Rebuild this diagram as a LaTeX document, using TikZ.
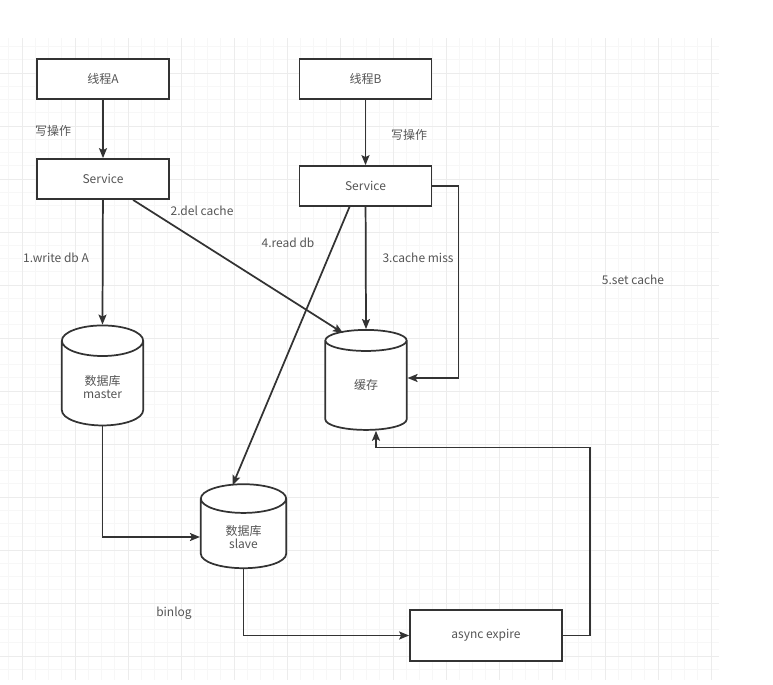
\documentclass[tikz,border=0pt]{standalone}
\usepackage{fontspec}
\setmainfont{Noto Sans CJK SC}
\usepackage{tikz}
\usetikzlibrary{
  arrows.meta,
  positioning,
  shapes.geometric,
  calc
}
\definecolor{lineclr}{RGB}{51,51,51}
\definecolor{txtclr}{RGB}{85,85,85}
\definecolor{gridminor}{RGB}{247,247,247}
\definecolor{gridmajor}{RGB}{236,236,236}
\newcommand{\lblfont}{\fontsize{9}{10}\selectfont}

\begin{document}
\begin{tikzpicture}[
  x=0.75pt, y=-0.75pt,
  box/.style={
    draw=lineclr, line width=1.3pt, fill=white,
    minimum width=99pt, minimum height=30pt,
    font=\lblfont, text=txtclr
  },
  db/.style={
    cylinder, shape border rotate=90, aspect=0.64,
    draw=lineclr, line width=1.3pt, fill=white,
    minimum width=61pt, minimum height=75pt,
    font=\lblfont, text=txtclr, align=center
  },
  lbl/.style={font=\lblfont, text=txtclr},
  arr/.style={-{Stealth[length=7.5pt, width=6pt, inset=1.5pt]}, line width=1.3pt, draw=lineclr},
]
\useasboundingbox (0,0) rectangle (773,684);

% background grid
\begin{scope}
  \clip (0,38) rectangle (719,680);
  \foreach \gx in {8.75,22,...,720} \draw[gridminor, line width=0.5pt] (\gx,38) -- (\gx,680);
  \foreach \gy in {46.5,59.75,...,681} \draw[gridminor, line width=0.5pt] (0,\gy) -- (719,\gy);
  \foreach \gx in {22,75,...,720} \draw[gridmajor, line width=0.7pt] (\gx,38) -- (\gx,680);
  \foreach \gy in {73,126,...,681} \draw[gridmajor, line width=0.7pt] (0,\gy) -- (719,\gy);
\end{scope}

% nodes
\node[box] (ta)     at (103,79)    {线程A};
\node[box] (sa)     at (103,179)   {Service};
\node[box] (tb)     at (365.5,79)  {线程B};
\node[box] (sb)     at (365.5,186) {Service};
\node[db]  (master) at (102.5,387) {数据库\\master};
\node[db]  (cache)  at (366,388)   {\raisebox{5pt}{缓存}};
\node[db, minimum width=64pt, minimum height=63pt] (slave) at (243.5,537) {数据库\\slave};
\node[box, minimum width=114pt, minimum height=38pt] (ae) at (486,635.5) {async expire};

% labels
\node[lbl] (wa)   at (53,131)  {写操作};
\node[lbl] (wb)   at (409,135) {写操作};
\node[lbl] (l1)   at (56,258)  {1.write db A};
\node[lbl] (l2)   at (202,211) {2.del cache};
\node[lbl] (l3)   at (418,258) {3.cache miss};
\node[lbl] (l4)   at (288,243) {4.read db};
\node[lbl] (l5)   at (633,280) {5.set cache};
\node[lbl] (lbin) at (174,613) {binlog};

% connectors
\draw[arr] (ta) -- (sa);
\draw[arr] (tb) -- (sb);
\draw[arr] (sa) -- (master.north);
\draw[arr] ($(sa.south)+(30,0)$) -- ($(cache.north)+(-23,4)$);
\draw[arr] (sb) -- (cache.north);
\draw[arr] ($(sb.south)+(-16,0)$) -- ($(slave.north)+(-11,2)$);
\draw[arr] (sb.east) -- ++(26,0) |- ($(cache.east)+(0,-10)$);
\draw[arr] (master.south) |- (slave.west);
\draw[arr] (slave.south) |- (ae.west);
\draw[arr] (ae.east) -| ++(27,-188) -| ($(cache.south)+(10,0)$);

\end{tikzpicture}
\end{document}
